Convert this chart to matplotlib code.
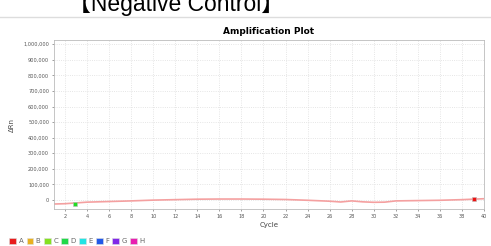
import matplotlib.pyplot as plt
import matplotlib.patches as mpatches
from matplotlib.ticker import FuncFormatter

# Amplification curve (negative control, well A)
cycles = [1, 2, 4, 6, 8, 10, 12, 14, 16, 18, 20, 22, 24, 26, 27, 28, 29, 30, 31, 32, 34, 36, 38, 40]
delta_rn = [-26000, -24000, -14000, -10000, -6000, -1000, 2000, 5000, 6000, 6000, 5000, 3000, -2000, -8000,
            -13000, -6000, -12000, -15000, -14000, -6000, -4000, -2000, 2000, 8000]

# markers on the curve
marker_x = [2.9, 39.1]
marker_y = [-25000, 5000]
marker_colors = ['#22dd22', '#ee1111']

well_names = ['A', 'B', 'C', 'D', 'E', 'F', 'G', 'H']
well_colors = ['#e81c1c', '#e8b020', '#84e020', '#20d848', '#20e4e4', '#2058e8', '#8028e8', '#e820b0']

W, H = 491, 246
fig = plt.figure(figsize=(W / 100, H / 100), dpi=100)

# Cropped header
fig.text(68 / W, 1 - 11 / H, '【Negative Control】', fontsize=16.5, color='black',
         family=['Liberation Sans', 'Noto Sans CJK JP'], va='baseline', ha='left')
fig.add_artist(plt.Line2D([0, 1], [1 - 17 / H, 1 - 17 / H], color='#dddddd', lw=1))

ax = fig.add_axes([54 / W, 1 - 209 / H, 430 / W, 169 / H])
ax.plot(cycles, delta_rn, color='#f4a0a0', lw=1.2)
ax.scatter(marker_x, marker_y, c=marker_colors, marker='s', s=8, edgecolors='#bbbbbb', linewidths=0.4, zorder=3)

ax.set_xlim(1, 40)
ax.set_ylim(-58000, 1027000)
ax.set_xticks(range(2, 41, 2))
ax.set_yticks(range(0, 1000001, 100000))
ax.yaxis.set_major_formatter(FuncFormatter(lambda v, p: '{:,}'.format(int(v))))
ax.tick_params(labelsize=3.6, colors='#555555', length=1.5, width=0.4, pad=2)
ax.grid(True, color='#dddddd', linestyle=':', linewidth=0.6)
for s in ax.spines.values():
    s.set_color('#bbbbbb')
    s.set_linewidth(0.6)

ax.set_title('Amplification Plot', fontsize=6.5, fontweight='bold', pad=4)
ax.set_xlabel('Cycle', fontsize=5, color='#444444', labelpad=2)
ax.set_ylabel('ΔRn', fontsize=5, color='#444444', labelpad=6)

# Well legend along the bottom
handles = [mpatches.Patch(facecolor=c, edgecolor='#dddddd', linewidth=0.4, label=n)
           for n, c in zip(well_names, well_colors)]
fig.legend(handles=handles, loc='center left', bbox_to_anchor=(3 / W, 1 - 241 / H), ncol=8,
           frameon=False, fontsize=5, handlelength=1.0, handleheight=1.0, handletextpad=0.35,
           columnspacing=0.45, labelcolor='#666666')

plt.savefig('out.png', dpi=100)
